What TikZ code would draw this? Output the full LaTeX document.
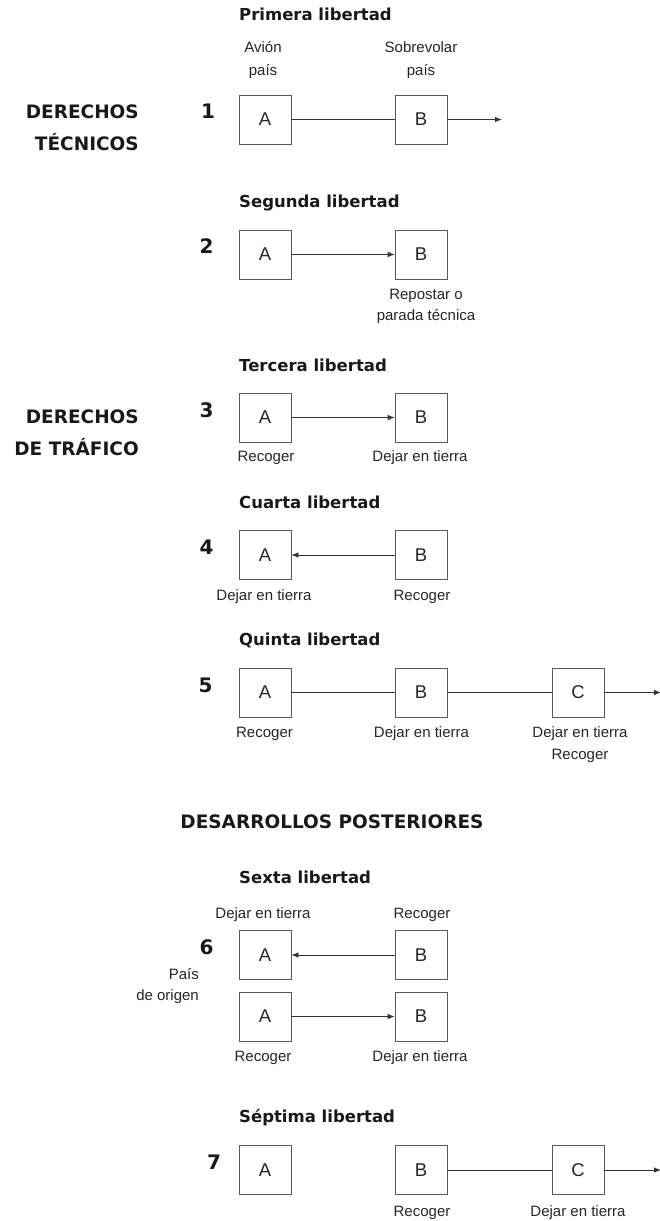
\documentclass[tikz,border=0pt]{standalone}
\usepackage{fontspec}
\setmainfont{Liberation Sans}
\newfontfamily\hdfont{DejaVu Sans}
\usetikzlibrary{arrows.meta}
\tikzset{
  box/.style={draw=black!65, line width=0.8pt, minimum width=52pt, minimum height=49pt, inner sep=0pt, text=black!85, font=\fontsize{18.5}{18.5}\selectfont},
  lbl/.style={anchor=base, inner sep=0pt, text=black!85, font=\fontsize{15}{18}\selectfont},
  lblr/.style={lbl, anchor=base east},
  ttl/.style={anchor=base west, inner sep=0pt, text=black!90, font=\hdfont\bfseries\fontsize{16.5}{20}\selectfont},
  num/.style={anchor=base, inner sep=0pt, text=black!90, font=\hdfont\bfseries\fontsize{20}{22}\selectfont},
  head/.style={anchor=base east, inner sep=0pt, text=black!90, font=\hdfont\bfseries\fontsize{18.5}{22}\selectfont},
  conn/.style={draw=black!80, line width=0.8pt},
  arr/.style={conn, -{Latex[length=7pt,width=5.5pt]}},
}
\begin{document}
\begin{tikzpicture}[x=1pt,y=-1pt]
\useasboundingbox (0,0) rectangle (660,1221);

% section headings
\node[head] (h1a) at (139,118.3) {DERECHOS};
\node[head] (h1b) at (139,150) {TÉCNICOS};
\node[head] (h2a) at (139,423.3) {DERECHOS};
\node[head] (h2b) at (139,455) {DE TRÁFICO};
\node[head, anchor=base] (h3) at (332,828.3) {DESARROLLOS POSTERIORES};

% ---- 1 ----
\node[ttl] (t1) at (239,20.7) {Primera libertad};
\node[lbl] (l1a) at (263,52.7) {Avión};
\node[lbl] (l1b) at (263,75) {país};
\node[lbl] (l1c) at (421,52.7) {Sobrevolar};
\node[lbl] (l1d) at (421,75) {país};
\node[num] (n1) at (208,118.5) {1};
\node[box] (a1) at (265,119.5) {A};
\node[box] (b1) at (421,119.5) {B};
\coordinate (e1) at (502,119.5);
\draw[conn] (a1) -- (b1);
\draw[arr] (b1) -- (e1);

% ---- 2 ----
\node[ttl] (t2) at (239,207) {Segunda libertad};
\node[num] (n2) at (206.5,253.5) {2};
\node[box] (a2) at (265,254.5) {A};
\node[box] (b2) at (421,254.5) {B};
\draw[arr] (a2) -- (b2);
\node[lbl] (l2a) at (426,299.3) {Repostar o};
\node[lbl] (l2b) at (426,320.5) {parada técnica};

% ---- 3 ----
\node[ttl] (t3) at (239,371) {Tercera libertad};
\node[num] (n3) at (206.5,417) {3};
\node[box] (a3) at (265,417.5) {A};
\node[box] (b3) at (421,417.5) {B};
\draw[arr] (a3) -- (b3);
\node[lbl] (l3a) at (266,461.7) {Recoger};
\node[lbl] (l3b) at (420,461.7) {Dejar en tierra};

% ---- 4 ----
\node[ttl] (t4) at (239,508) {Cuarta libertad};
\node[num] (n4) at (206.5,554.5) {4};
\node[box] (a4) at (265,555) {A};
\node[box] (b4) at (421,555) {B};
\draw[arr] (b4) -- (a4);
\node[lbl] (l4a) at (264,600) {Dejar en tierra};
\node[lbl] (l4b) at (422,600) {Recoger};

% ---- 5 ----
\node[ttl] (t5) at (239,645) {Quinta libertad};
\node[num] (n5) at (205.5,692) {5};
\node[box] (a5) at (265,692.5) {A};
\node[box] (b5) at (421,692.5) {B};
\node[box] (c5) at (578,692.5) {C};
\coordinate (e5) at (661,692.5);
\draw[conn] (a5) -- (b5);
\draw[conn] (b5) -- (c5);
\draw[arr] (c5) -- (e5);
\node[lbl] (l5a) at (264.5,737.3) {Recoger};
\node[lbl] (l5b) at (421.5,737.3) {Dejar en tierra};
\node[lbl] (l5c) at (580,737.3) {Dejar en tierra};
\node[lbl] (l5d) at (580,759.3) {Recoger};

% ---- 6 ----
\node[ttl] (t6) at (239,883.3) {Sexta libertad};
\node[lbl] (l6a) at (263,918.3) {Dejar en tierra};
\node[lbl] (l6b) at (422,918.3) {Recoger};
\node[num] (n6) at (206.5,954.5) {6};
\node[lblr] (l6o1) at (199,979) {País};
\node[lblr] (l6o2) at (199,1000) {de origen};
\node[box] (a6) at (265,955) {A};
\node[box] (b6) at (421,955) {B};
\draw[arr] (b6) -- (a6);
\node[box] (a6b) at (265,1016.5) {A};
\node[box] (b6b) at (421,1016.5) {B};
\draw[arr] (a6b) -- (b6b);
\node[lbl] (l6c) at (263,1061.7) {Recoger};
\node[lbl] (l6d) at (420,1061.7) {Dejar en tierra};

% ---- 7 ----
\node[ttl] (t7) at (239,1122.7) {Séptima libertad};
\node[num] (n7) at (214,1169.5) {7};
\node[box] (a7) at (265,1170) {A};
\node[box] (b7) at (421,1170) {B};
\node[box] (c7) at (578,1170) {C};
\coordinate (e7) at (661,1170);
\draw[conn] (b7) -- (c7);
\draw[arr] (c7) -- (e7);
\node[lbl] (l7a) at (422,1216.7) {Recoger};
\node[lbl] (l7b) at (578,1216.7) {Dejar en tierra};
\end{tikzpicture}
\end{document}
